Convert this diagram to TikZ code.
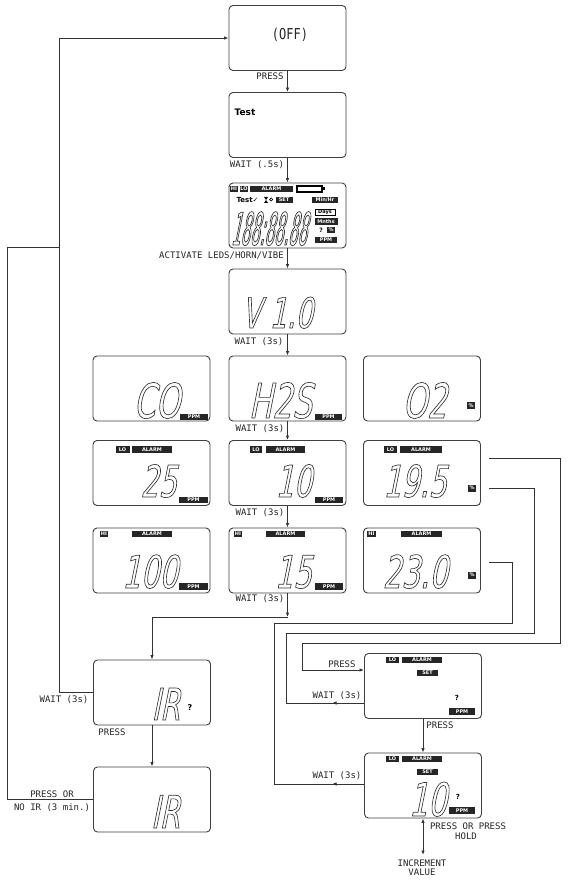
\documentclass[tikz,border=0pt]{standalone}
\usepackage{fontspec}
\usetikzlibrary{arrows.meta,decorations.markings}
\newfontfamily\lblfont{DejaVu Sans Mono}
\newfontfamily\lblbig{DejaVu Sans Mono}[FakeStretch=0.8]
\newfontfamily\segfont{DejaVu Sans}[FakeStretch=0.65,FakeSlant=0.2]
\newfontfamily\segnarrow{DejaVu Sans}[FakeStretch=0.33,FakeSlant=0.2]
\newfontfamily\dvs{DejaVu Sans}
\newcommand\outl[1]{\special{pdf:literal direct 1 Tr 0.65 w}#1\special{pdf:literal direct 0 Tr}}
\begin{document}
\begin{tikzpicture}[x=1pt,y=-1pt,
  box/.style={draw=black!75, line width=0.9pt, rounded corners=4pt, minimum width=117pt, minimum height=65pt, inner sep=0pt},
  conn/.style={draw=black!80, line width=0.9pt},
  arr/.style={conn, -{Latex[length=4.5pt,width=3.5pt]}},
  lbl/.style={font=\fontsize{9}{9}\lblfont, inner sep=0pt, text=black!85, text height=6.5pt, text depth=0pt},
  badge/.style={fill=black!85, text=white, font=\fontsize{5}{5}\dvs\bfseries, inner sep=0pt, minimum height=6.5pt, text height=3.8pt, text depth=0pt},
  seg/.style={anchor=base east, inner sep=0pt, text=black!80, text depth=0pt},
  midarrow/.style={postaction={decorate}, decoration={markings, mark=at position 32pt with {\arrow{Latex[length=4.5pt,width=3.5pt]}}}}
]
\useasboundingbox (0,0) rectangle (583,882);
\fill[white] (0,0) rectangle (583,882);

% ---------- boxes ----------
\node[box] (off)  at (287.5,38)    {};
\node[box] (test) at (287.5,125)   {};
\node[box] (lcd)  at (287.5,215.5) {};
\node[box] (ver)  at (287.5,301.5) {};
\node[box] (coA)  at (151.5,388.5) {};
\node[box] (h2sA) at (287.5,388.5) {};
\node[box] (o2A)  at (422,388.5)   {};
\node[box] (coB)  at (151.5,473)   {};
\node[box] (h2sB) at (287.5,473)   {};
\node[box] (o2B)  at (422,473)     {};
\node[box] (coC)  at (151.5,560.5) {};
\node[box] (h2sC) at (287.5,560.5) {};
\node[box] (o2C)  at (422,560.5)   {};
\node[box] (irq)  at (152,692.5)   {};
\node[box] (ir)   at (152,799.5)   {};
\node[box] (s1)   at (423,686)     {};
\node[box] (s2)   at (423,785.5)   {};

% ---------- box contents ----------
\node[inner sep=0pt, font=\fontsize{15}{15}\lblbig, text=black!85] (offt) at (290,35) {(OFF)};
\node[inner sep=0pt, font=\fontsize{9}{9}\dvs\bfseries] (testt) at (245,112) {Test};

% all-segment display
\node[badge, minimum width=8pt]  (lb1) at (234,189) {HI};
\node[badge, minimum width=8pt]  (lb2) at (244,189) {LO};
\node[badge, minimum width=43pt] (lb3) at (271.5,189) {ALARM};
\draw[line width=1.2pt] (297,186) rectangle (322,192);
\fill (322,187.5) rectangle (325,190.5);
\node[inner sep=0pt, font=\fontsize{7}{7}\dvs\bfseries] (lt1) at (247.5,200) {Test✓};
\fill (264,197) -- (268,197) -- (264,203) -- (268,203) -- cycle;
\draw[line width=0.6pt] (271.2,199.5) circle (1.6pt);
\node[badge, minimum width=17pt] (lb4) at (284,200) {SET};
\node[badge, minimum width=26pt] (lb5) at (325,200) {Min/Hr};
\node[draw, line width=0.7pt, inner sep=0pt, minimum width=20pt, minimum height=6pt, font=\fontsize{5}{5}\dvs\bfseries, text height=3.8pt, text depth=0pt] (lb6) at (325,212) {Days};
\node[badge, minimum width=23pt] (lb7) at (326,221.5) {Mnths};
\node[inner sep=0pt, font=\fontsize{6}{6}\dvs\bfseries] (lq) at (321,230) {?};
\node[badge, minimum width=8pt] (lb8) at (331,230) {\%};
\node[badge, minimum width=22pt] (lb9) at (326,240) {PPM};
\node[seg, font=\fontsize{45}{45}\segnarrow] (lcdt) at (307,245) {\outl{188:88.88}};

% version
\node[seg, font=\fontsize{42}{42}\segfont] (vert) at (313,328) {\outl{V 1.0}};

% row A
\node[seg, font=\fontsize{48}{48}\segfont] (coAt) at (180,418) {\outl{CO}};
\node[badge, minimum width=28pt] (coAp) at (194,417) {PPM};
\node[seg, font=\fontsize{48}{48}\segfont] (h2sAt) at (312,418) {\outl{H2S}};
\node[badge, minimum width=27pt] (h2sAp) at (328.5,417) {PPM};
\node[seg, font=\fontsize{48}{48}\segfont] (o2At) at (447,418) {\outl{O2}};
\node[badge, minimum width=8pt, minimum height=7pt] (o2Ap) at (471,405.5) {\%};

% row B
\node[badge, minimum width=14pt] (coBl) at (122.5,449.5) {LO};
\node[badge, minimum width=40pt] (coBa) at (152,449.5) {ALARM};
\node[seg, font=\fontsize{44}{44}\segfont] (coBt) at (177,497) {\outl{25}};
\node[badge, minimum width=29pt] (coBp) at (193.5,500) {PPM};
\node[badge, minimum width=12pt] (h2sBl) at (256,449.5) {LO};
\node[badge, minimum width=39pt] (h2sBa) at (285.5,449.5) {ALARM};
\node[seg, font=\fontsize{44}{44}\segfont] (h2sBt) at (312,497) {\outl{10}};
\node[badge, minimum width=28pt] (h2sBp) at (329,500) {PPM};
\node[badge, minimum width=13pt] (o2Bl) at (390.5,449.5) {LO};
\node[badge, minimum width=42pt] (o2Ba) at (421,449.5) {ALARM};
\node[seg, font=\fontsize{44}{44}\segfont] (o2Bt) at (447,497) {\outl{19.5}};
\node[badge, minimum width=8pt, minimum height=7pt] (o2Bp) at (472,488) {\%};

% row C
\node[badge, minimum width=8pt] (coCh) at (104,534) {HI};
\node[badge, minimum width=40pt] (coCa) at (152,534) {ALARM};
\node[seg, font=\fontsize{45}{45}\segfont] (coCt) at (178,588) {\outl{100}};
\node[badge, minimum width=29pt] (coCp) at (193.5,586.5) {PPM};
\node[badge, minimum width=8pt] (h2sCh) at (238,534) {HI};
\node[badge, minimum width=39pt] (h2sCa) at (285.5,534) {ALARM};
\node[seg, font=\fontsize{45}{45}\segfont] (h2sCt) at (312,588) {\outl{15}};
\node[badge, minimum width=28pt] (h2sCp) at (329,586.5) {PPM};
\node[badge, minimum width=9pt] (o2Ch) at (371.5,534) {HI};
\node[badge, minimum width=41pt] (o2Ca) at (421.5,534) {ALARM};
\node[seg, font=\fontsize{45}{45}\segfont] (o2Ct) at (448,588) {\outl{23.0}};
\node[badge, minimum width=8pt, minimum height=7pt] (o2Cp) at (472,575) {\%};

% IR boxes
\node[seg, font=\fontsize{44}{44}\segfont] (irqt) at (180,720) {\outl{IR}};
\node[inner sep=0pt, font=\fontsize{8}{8}\dvs\bfseries] (irqq) at (190,708) {?};
\node[seg, font=\fontsize{45}{45}\segfont] (irt) at (180,828) {\outl{IR}};

% set boxes
\node[badge, minimum width=13pt] (s1l) at (392.5,660) {LO};
\node[badge, minimum width=40pt] (s1a) at (422,660) {ALARM};
\node[badge, minimum width=21pt] (s1s) at (427.5,673) {SET};
\node[inner sep=0pt, font=\fontsize{7}{7}\dvs\bfseries] (s1q) at (457,698) {?};
\node[badge, minimum width=26pt] (s1p) at (462,711.5) {PPM};
\node[badge, minimum width=13pt] (s2l) at (392.5,759) {LO};
\node[badge, minimum width=40pt] (s2a) at (422,759) {ALARM};
\node[badge, minimum width=21pt] (s2s) at (427.5,772) {SET};
\node[seg, font=\fontsize{46}{46}\segfont] (s2t) at (447,816) {\outl{10}};
\node[inner sep=0pt, font=\fontsize{7}{7}\dvs\bfseries] (s2q) at (458,797) {?};
\node[badge, minimum width=26pt] (s2p) at (462,810.5) {PPM};

% ---------- connectors ----------
\draw[arr] (off) -- (test);
\draw[arr] (test) -- (lcd);
\draw[arr] (lcd) -- (ver);
\draw[arr] (ver) -- (h2sA);
\draw[arr] (h2sA) -- (h2sB);
\draw[arr] (h2sB) -- (h2sC);
\coordinate (j1) at (287.5,617);
\draw[arr] (h2sC) -- (j1);
\draw[arr] (j1) -| (irq);
\draw[arr] (irq) -- (ir);
\draw[arr] (irq.west) -- ++(-34,0) |- (off.west);
\coordinate (j2) at (59.5,247);
\draw[conn] (ir.west) -- ++(-85.5,0) |- (j2);

\draw[arr] ([xshift=8pt,yshift=15pt]o2B.east) -| (560,643) -| (302,670) -- ([yshift=16pt]s1.west);
\draw[conn, midarrow] ([yshift=-17pt]s1.west) -- (286,703) |- (534,633) |- ([xshift=8pt,yshift=-15pt]o2B.east);
\draw[conn, midarrow] ([yshift=1.5pt]s2.west) -- (274,784) |- (512,623) |- ([xshift=8pt,yshift=-1.5pt]o2C.east);
\draw[arr] (s1) -- (s2);
\coordinate (inc) at (423,855);
\draw[conn, {Latex[length=4.5pt,width=3.5pt]}-{Latex[length=4.5pt,width=3.5pt]}] (s2) -- (inc);

% ---------- labels ----------
\node[lbl] (l1) at (270,76.5) {PRESS};
\node[lbl] (l2) at (257,164.5) {WAIT (.5s)};
\node[lbl, anchor=east] (l3) at (284,255) {ACTIVATE LEDS/HORN/VIBE};
\node[lbl] (l4) at (259,341.5) {WAIT (3s)};
\node[lbl] (l5) at (260,428.5) {WAIT (3s)};
\node[lbl] (l6) at (260,512) {WAIT (3s)};
\node[lbl] (l7) at (260,598.5) {WAIT (3s)};
\node[lbl] (l8) at (64,699) {WAIT (3s)};
\node[lbl] (l9) at (112,732) {PRESS};
\node[lbl] (l10) at (52,794) {PRESS OR};
\node[lbl] (l11) at (52,807) {NO IR (3 min.)};
\node[lbl] (l12) at (342,664) {PRESS};
\node[lbl] (l13) at (337,695) {WAIT (3s)};
\node[lbl] (l14) at (440,725) {PRESS};
\node[lbl] (l15) at (337,775) {WAIT (3s)};
\node[lbl] (l16) at (468,826.5) {PRESS OR PRESS};
\node[lbl] (l17) at (466,836) {HOLD};
\node[lbl] (l18) at (422,863) {INCREMENT};
\node[lbl] (l19) at (422,872) {VALUE};
\end{tikzpicture}
\end{document}
